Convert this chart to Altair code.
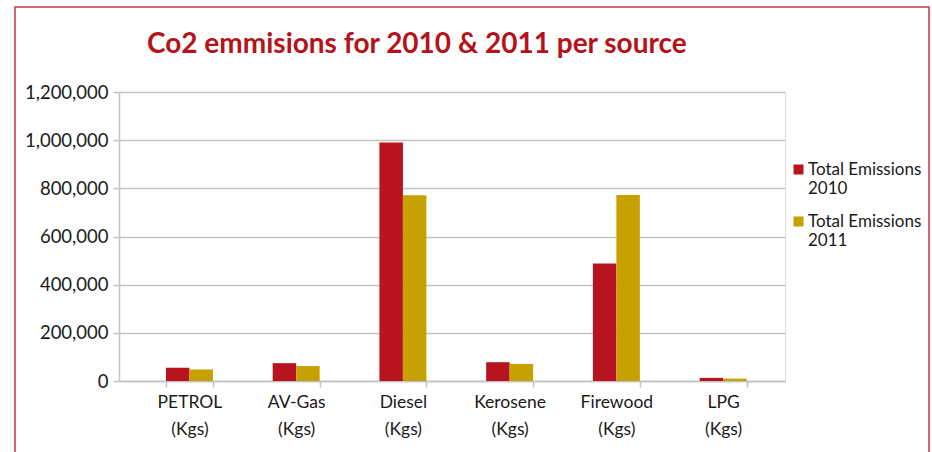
import altair as alt
import pandas as pd

categories = ["PETROL (Kgs)", "AV-Gas (Kgs)", "Diesel (Kgs)", "Kerosene (Kgs)", "Firewood (Kgs)", "LPG (Kgs)"]
series = ["Total Emissions 2010", "Total Emissions 2011"]
emissions_2010 = [55000, 74000, 990000, 78000, 488000, 13000]
emissions_2011 = [48000, 62000, 771000, 71000, 772000, 10000]
y_ticks = [0, 200000, 400000, 600000, 800000, 1000000, 1200000]
colors = ["#B8141F", "#C6A100"]

rows = []
for c, a, b in zip(categories, emissions_2010, emissions_2011):
    rows.append({"source": c, "series": series[0], "value": a})
    rows.append({"source": c, "series": series[1], "value": b})
df = pd.DataFrame(rows)

FONT = "Lato"
TEXT = "#1a1a1a"
GRID = "#C2C2C2"

bars = alt.Chart(df).mark_bar().encode(
    x=alt.X("source:N", sort=categories, title=None,
            scale=alt.Scale(paddingInner=0.56, paddingOuter=0.4, align=0.55),
            axis=alt.Axis(labelAngle=0, labelExpr="split(datum.label, ' ')",
                          labelLineHeight=27, labelFontSize=17.5, labelFont=FONT,
                          labelColor=TEXT, labelPadding=6, tickBand="extent",
                          tickSize=6, tickColor=GRID, tickWidth=1.5,
                          domainColor=GRID, domainWidth=1.5, grid=False)),
    xOffset=alt.XOffset("series:N", sort=series, scale=alt.Scale(paddingInner=0, paddingOuter=0)),
    y=alt.Y("value:Q", title=None,
            scale=alt.Scale(domain=[0, 1200000], nice=False, zero=True),
            axis=alt.Axis(values=y_ticks, format=",d", labelFontSize=18.5, labelFont=FONT,
                          labelColor=TEXT, labelPadding=5, tickSize=6, tickColor=GRID,
                          tickWidth=1.5, domainColor=GRID, domainWidth=1.5,
                          gridColor=GRID, gridWidth=1.5)),
    color=alt.Color("series:N", sort=series,
                    scale=alt.Scale(domain=series, range=colors),
                    legend=alt.Legend(title=None, orient="none", legendX=671, legendY=69,
                                      padding=0,
                                      symbolType="square", symbolSize=100,
                                      symbolStrokeWidth=0, labelOffset=1,
                                      labelFont=FONT, labelFontSize=17, labelColor=TEXT,
                                      labelBaseline="middle", rowPadding=15, labelLimit=300,
                                      labelExpr="['Total Emissions', (datum.label == 'Total Emissions 2011' ? ' ' : '') + slice(datum.label, 16)]")),
)

border = alt.Chart(alt.Data(values=[{}])).mark_rect(
    fill="transparent", stroke="#C8333F", strokeWidth=1.5
).encode(
    x=alt.value(-104), x2=alt.value(810), y=alt.value(-85), y2=alt.value(420)
)

chart = alt.layer(bars, border).properties(
    width=666, height=289,
    title=alt.TitleParams(
        "Co2 emmisions for 2010 & 2011 per source",
        anchor="start", frame="group", dx=28, dy=75, offset=0, baseline="alphabetic",
        font=FONT, fontSize=28, fontWeight="bold", color="#B5121B",
    ),
    autosize=alt.AutoSizeParams(type="none"),
    padding={"left": 119, "top": 92, "right": 147, "bottom": 71},
).configure_view(stroke=None).configure(background="white")

chart.save("out.html", embed_options={"renderer": "svg", "actions": False})
